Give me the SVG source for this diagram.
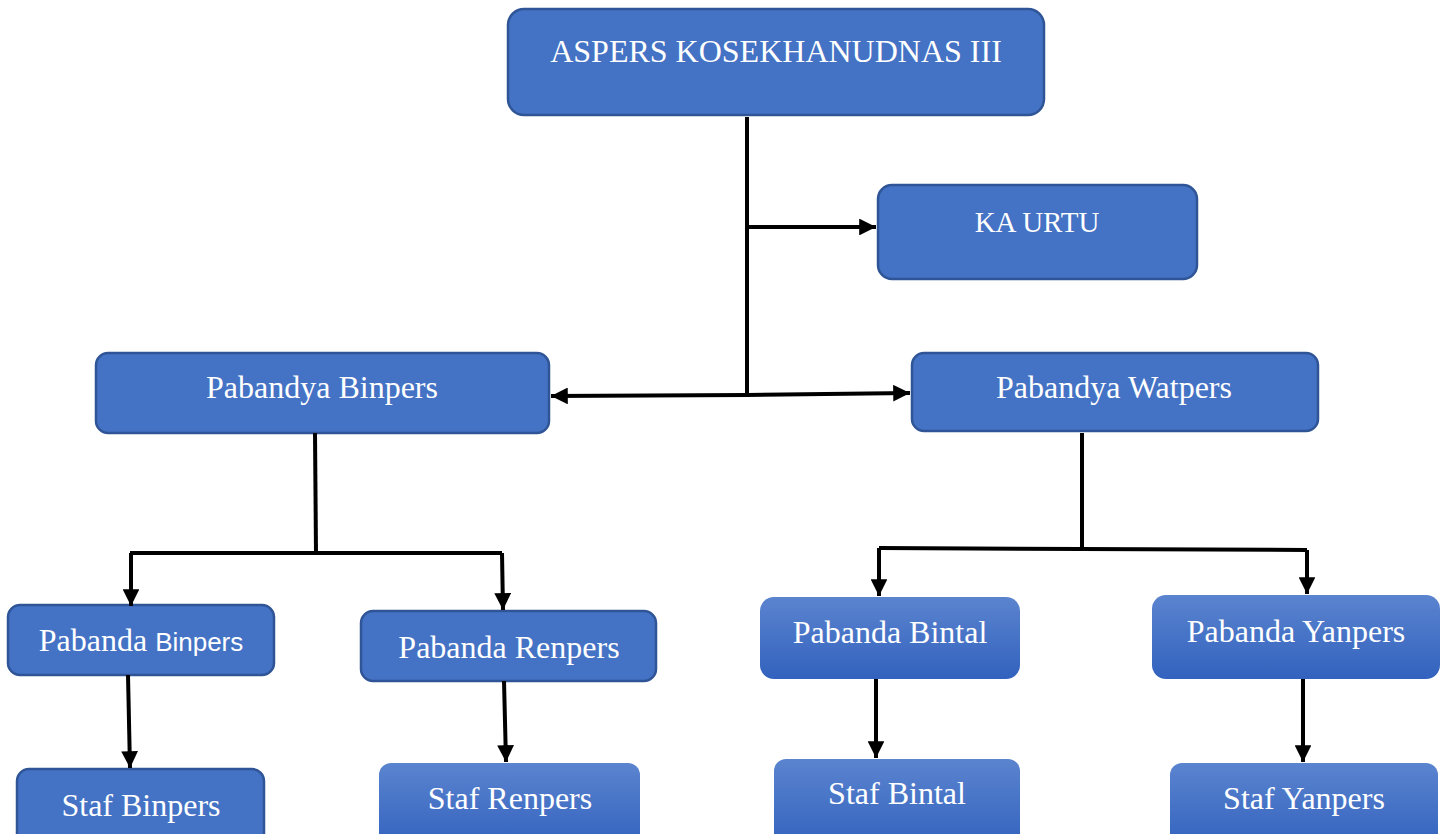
<svg xmlns="http://www.w3.org/2000/svg" width="1449" height="834" viewBox="0 0 1449 834">
<style>
.flat{fill:#4472C4;stroke:#2F5597;stroke-width:2.5}
.grad{fill:url(#g)}
text{font-family:"Liberation Serif","Times New Roman",serif;font-size:32px;fill:#fff;text-anchor:middle}
.sans{font-family:"Liberation Sans",Arial,sans-serif;font-size:26px}
.c{stroke:#000;stroke-width:4;fill:none}
</style>
<defs>
<linearGradient id="g" x1="0" y1="0" x2="0" y2="1">
<stop offset="0" stop-color="#5B84CF"/>
<stop offset="1" stop-color="#3262BE"/>
</linearGradient>
<marker id="a" viewBox="0 0 10 10" refX="10" refY="5" markerWidth="4.2" markerHeight="4.2" orient="auto" markerUnits="strokeWidth">
<path d="M0,0L10,5L0,10z" fill="#000"/>
</marker>
</defs>
<g id="n-aspers"><rect class="flat" x="508" y="9" width="536" height="106" rx="16"/><text x="776" y="62">ASPERS KOSEKHANUDNAS III</text></g>
<g id="n-kaurtu"><rect class="flat" x="878" y="185" width="319" height="94" rx="14"/><text x="1037" y="232" style="font-size:29px">KA URTU</text></g>
<g id="n-pbinpers"><rect class="flat" x="96" y="353" width="453" height="80" rx="12"/><text x="322" y="398">Pabandya Binpers</text></g>
<g id="n-pwatpers"><rect class="flat" x="912" y="353" width="406" height="78" rx="12"/><text x="1114" y="398">Pabandya Watpers</text></g>
<g id="n-pbbinpers"><rect class="flat" x="8" y="605" width="266" height="70" rx="12"/><text x="141" y="651">Pabanda <tspan class="sans">Binpers</tspan></text></g>
<g id="n-pbrenpers"><rect class="flat" x="361" y="611" width="295" height="70" rx="12"/><text x="509" y="658">Pabanda Renpers</text></g>
<g id="n-pbbintal"><rect class="grad" x="760" y="597" width="260" height="82" rx="14"/><text x="890" y="643">Pabanda Bintal</text></g>
<g id="n-pbyanpers"><rect class="grad" x="1152" y="595" width="288" height="84" rx="14"/><text x="1296" y="642">Pabanda Yanpers</text></g>
<g id="n-sbinpers"><rect class="flat" x="17" y="769" width="247" height="80" rx="12"/><text x="141" y="816">Staf Binpers</text></g>
<g id="n-srenpers"><rect class="grad" x="379" y="763" width="261" height="86" rx="12"/><text x="510" y="809">Staf Renpers</text></g>
<g id="n-sbintal"><rect class="grad" x="774" y="759" width="246" height="90" rx="12"/><text x="897" y="804">Staf Bintal</text></g>
<g id="n-syanpers"><rect class="grad" x="1170" y="763" width="268" height="86" rx="12"/><text x="1304" y="809">Staf Yanpers</text></g>
<g id="connectors">
<path class="c" d="M747,117V397"/>
<path class="c" d="M747,227H876" marker-end="url(#a)"/>
<path class="c" d="M747,395L551,396" marker-end="url(#a)"/>
<path class="c" d="M747,395L910,393" marker-end="url(#a)"/>
<path class="c" d="M315,433L316,553"/>
<path class="c" d="M130,553H502"/>
<path class="c" d="M131,553V606" marker-end="url(#a)"/>
<path class="c" d="M502,553L503,610" marker-end="url(#a)"/>
<path class="c" d="M1082,433V549"/>
<path class="c" d="M879,548L1307,550"/>
<path class="c" d="M879,548V596" marker-end="url(#a)"/>
<path class="c" d="M1307,550V594" marker-end="url(#a)"/>
<path class="c" d="M128,675L130,768" marker-end="url(#a)"/>
<path class="c" d="M504,681L506,762" marker-end="url(#a)"/>
<path class="c" d="M876,679V758" marker-end="url(#a)"/>
<path class="c" d="M1303,679V762" marker-end="url(#a)"/>
</g>
</svg>
